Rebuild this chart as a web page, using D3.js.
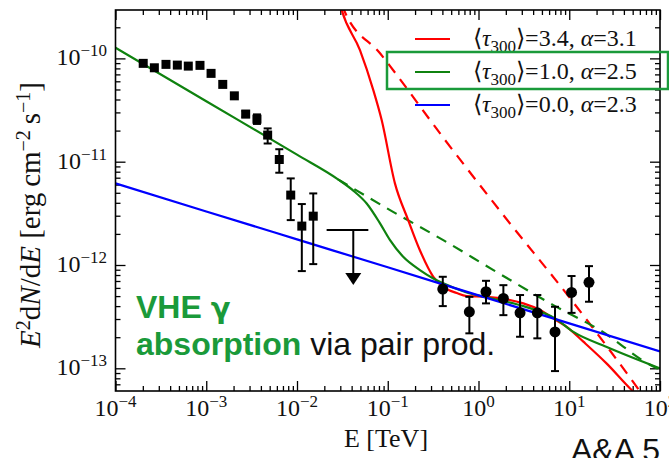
<!DOCTYPE html>
<html><head><meta charset="utf-8">
<script src="https://cdn.jsdelivr.net/npm/d3@7"></script>
<style>body{margin:0;background:#fff}svg{display:block}</style>
</head><body>
<svg id="c" width="669" height="458"></svg>
<script>
// ---------- data ----------
const fermiE  = [2.02e-4, 2.68e-4, 3.60e-4, 4.80e-4, 6.34e-4, 8.53e-4, 1.13e-3, 1.52e-3, 2.04e-3, 2.72e-3, 3.62e-3, 4.75e-3, 6.38e-3, 8.53e-3, 1.13e-2, 1.51e-2];
const fermiF  = [8.95e-11, 8.11e-11, 8.75e-11, 8.61e-11, 8.42e-11, 8.56e-11, 7.16e-11, 5.60e-11, 4.34e-11, 2.89e-11, 2.58e-11, 1.81e-11, 1.05e-11, 4.75e-12, 2.38e-12, 2.97e-12];
const fermiLo = [null, null, null, null, null, null, null, null, null, 2.70e-11, 2.32e-11, 1.50e-11, 7.82e-12, 2.72e-12, 8.73e-13, 1.02e-12];
const fermiHi = [null, null, null, null, null, null, null, null, null, 3.10e-11, 2.87e-11, 2.10e-11, 1.32e-11, 6.89e-12, 3.89e-12, 4.93e-12];

const hessE  = [0.404, 0.793, 1.21, 1.88, 2.87, 4.45, 6.97, 10.6, 16.5];
const hessF  = [5.85e-13, 3.52e-13, 5.51e-13, 4.75e-13, 3.44e-13, 3.44e-13, 2.25e-13, 5.43e-13, 6.79e-13];
const hessLo = [4.00e-13, 2.18e-13, 4.25e-13, 3.27e-13, 2.02e-13, 1.95e-13, 9.4e-14, 3.44e-13, 4.41e-13];
const hessHi = [7.69e-13, 4.92e-13, 7.03e-13, 6.38e-13, 5.12e-13, 5.12e-13, 3.94e-13, 7.82e-13, 9.75e-13];

const ulE = 4.17e-2, ulF = 2.18e-12, ulElo = 2.12e-2, ulEhi = 6.11e-2, ulTo = 6.4e-13;

// model curves [E (TeV), E^2 dN/dE]
const blueSolid = [[1e-4,6.17e-12],[1e-3,3.30e-12],[1e-2,1.77e-12],[1e-1,9.5e-13],[1,5.08e-13],[10,2.72e-13],[100,1.46e-13]];
const greenSolid = [[1e-4,1.27e-10],[1e-3,3.85e-11],[1e-2,1.17e-11],[2.83e-2,6.75e-12],[4.17e-2,5.25e-12],[5.86e-2,3.94e-12],[8.22e-2,2.53e-12],[0.106,1.74e-12],[0.148,1.20e-12],[0.226,8.93e-13],[0.318,7.41e-13],[0.409,6.64e-13],[0.741,5.41e-13],[1.23,4.86e-13],[3.12,4.00e-13],[6.97,3.04e-13],[11.1,2.25e-13],[25.9,1.61e-13],[100,1.0e-13]];
const greenDashed = [[2.83e-2,6.75e-12],[0.106,3.40e-12],[0.409,1.74e-12],[1.46,8.93e-13],[6.67,4.09e-13],[21.8,2.34e-13],[84.4,1.04e-13],[100,9.7e-14]];
const redSolid = [[3.0e-2,3.3e-10],[3.11e-2,2.94e-10],[4.94e-2,1.20e-10],[6.93e-2,4.93e-11],[8.57e-2,2.53e-11],[0.120,6.17e-12],[0.168,2.72e-12],[0.226,1.39e-12],[0.318,7.69e-13],[0.409,6.15e-13],[0.575,5.35e-13],[0.741,5.00e-13],[1.23,4.92e-13],[2.05,4.65e-13],[3.12,4.25e-13],[4.76,3.66e-13],[6.97,2.97e-13],[9.37,2.52e-13],[14.3,1.81e-13],[25.9,1.11e-13],[46.8,6.38e-14],[60.3,5.14e-14]];
const redDashed = [[3.2e-2,3.3e-10],[3.30e-2,2.94e-10],[8.22e-2,1.12e-10],[0.428,1.62e-11],[1.88,3.04e-12],[10.6,4.57e-13],[50.8,7.35e-14],[63.4,5.62e-14]];

const legendTau   = ["3.4", "1.0", "0.0"];
const legendAlpha = ["3.1", "2.5", "2.3"];
const xTickExp = [-4, -3, -2, -1, 0, 1, 2];
const yTickExp = [-10, -11, -12, -13];

// ---------- drawing ----------
const svg = d3.select("#c");
const L = 115.5, R = 660, T = 10, B = 391;
const x = d3.scaleLog().domain([1e-4, 1e2]).range([L, R]);
const y = d3.scaleLog().domain([6.03e-14, 2.94e-10]).range([B, T]);

const SERIF = "'Liberation Serif','Times New Roman',serif";
const SANS = "'Liberation Sans',Arial,sans-serif";
const RED = "#ff0000", GREEN = "#0f820f", BLUE = "#0000ff", HL = "#1a9a3a";

svg.append("defs").append("clipPath").attr("id", "pc")
  .append("rect").attr("x", L).attr("y", T).attr("width", R - L).attr("height", B - T);

function minors(scale) {
  const [a, b] = scale.domain();
  const out = [];
  for (let e = Math.floor(Math.log10(a)); e <= Math.ceil(Math.log10(b)); e++)
    for (let m = 2; m <= 9; m++) { const v = m * Math.pow(10, e); if (v >= a && v <= b) out.push(v); }
  return out;
}
const xMaj = xTickExp.map(e => Math.pow(10, e));
const yMaj = yTickExp.map(e => Math.pow(10, e));

function axisGroup(gen, tx, ty) {
  const g = svg.append("g").attr("transform", `translate(${tx},${ty})`).call(gen);
  g.select(".domain").remove();
  g.selectAll("text").remove();
  g.selectAll("line").attr("stroke", "#000").attr("stroke-width", 1.3);
  return g;
}
[[xMaj, 10], [minors(x), 5]].forEach(([vals, len]) => {
  axisGroup(d3.axisBottom(x).tickValues(vals).tickSizeInner(-len).tickSizeOuter(0), 0, B);
  axisGroup(d3.axisTop(x).tickValues(vals).tickSizeInner(-len).tickSizeOuter(0), 0, T);
});
[[yMaj, 10], [minors(y), 5]].forEach(([vals, len]) => {
  axisGroup(d3.axisLeft(y).tickValues(vals).tickSizeInner(-len).tickSizeOuter(0), L, 0);
  axisGroup(d3.axisRight(y).tickValues(vals).tickSizeInner(-len).tickSizeOuter(0), R, 0);
});

function powLabel(sel, e) {
  sel.append("tspan").text("10");
  sel.append("tspan").attr("dy", -9).attr("font-size", 17).text((e < 0 ? "\u2212" : "") + Math.abs(e));
}
xTickExp.forEach(e => {
  const t = svg.append("text").attr("x", x(Math.pow(10, e))).attr("y", 416)
    .attr("text-anchor", "middle").attr("font-family", SERIF).attr("font-size", 24).attr("fill", "#111");
  powLabel(t, e);
});
yTickExp.forEach(e => {
  const t = svg.append("text").attr("x", 107).attr("y", y(Math.pow(10, e)) + 7)
    .attr("text-anchor", "end").attr("font-family", SERIF).attr("font-size", 24).attr("fill", "#111");
  powLabel(t, e);
});

// axis titles
svg.append("text").attr("x", 386).attr("y", 447).attr("text-anchor", "middle")
  .attr("font-family", SERIF).attr("font-size", 26).attr("fill", "#111").text("E [TeV]");
const yl = svg.append("text").attr("transform", "translate(40,215) rotate(-90)")
  .attr("text-anchor", "middle").attr("font-family", SERIF).attr("font-size", 29).attr("fill", "#111");
yl.append("tspan").attr("font-style", "italic").text("E");
yl.append("tspan").attr("dy", -10).attr("font-size", 20).text("2");
yl.append("tspan").attr("dy", 10).text("d");
yl.append("tspan").attr("font-style", "italic").text("N");
yl.append("tspan").text("/d");
yl.append("tspan").attr("font-style", "italic").text("E");
yl.append("tspan").text(" [erg\u2009cm");
yl.append("tspan").attr("dy", -10).attr("font-size", 20).text("\u22122");
yl.append("tspan").attr("dy", 10).text("\u2009s");
yl.append("tspan").attr("dy", -10).attr("font-size", 20).text("\u22121");
yl.append("tspan").attr("dy", 10).text("]");

// curves
const line = d3.line().x(d => x(d[0])).y(d => y(d[1])).curve(d3.curveMonotoneX);
const pg = svg.append("g").attr("clip-path", "url(#pc)");
const curves = [
  [redDashed, RED, "11,8"], [greenDashed, GREEN, "11,8"],
  [redSolid, RED, null], [greenSolid, GREEN, null], [blueSolid, BLUE, null]
];
curves.forEach(([d, c, dash]) => {
  pg.append("path").datum(d).attr("d", line).attr("fill", "none")
    .attr("stroke", c).attr("stroke-width", 2.2).attr("stroke-dasharray", dash);
});

// error bars
function errBar(g, xv, lo, hi) {
  if (lo == null) return;
  g.append("line").attr("x1", x(xv)).attr("x2", x(xv)).attr("y1", y(lo)).attr("y2", y(hi));
  [lo, hi].forEach(v => g.append("line").attr("x1", x(xv) - 4).attr("x2", x(xv) + 4).attr("y1", y(v)).attr("y2", y(v)));
}
const eg = svg.append("g").attr("stroke", "#000").attr("stroke-width", 2);
fermiE.forEach((e, i) => errBar(eg, e, fermiLo[i], fermiHi[i]));
hessE.forEach((e, i) => errBar(eg, e, hessLo[i], hessHi[i]));

svg.append("g").selectAll("rect").data(fermiE).join("rect")
  .attr("x", d => x(d) - 4.5).attr("y", (d, i) => y(fermiF[i]) - 4.5)
  .attr("width", 9).attr("height", 9).attr("fill", "#000");
svg.append("g").selectAll("circle").data(hessE).join("circle")
  .attr("cx", d => x(d)).attr("cy", (d, i) => y(hessF[i])).attr("r", 5.5).attr("fill", "#000");

// upper limit
const ug = svg.append("g").attr("stroke", "#000").attr("stroke-width", 2);
ug.append("line").attr("x1", x(ulElo)).attr("x2", x(ulEhi)).attr("y1", y(ulF)).attr("y2", y(ulF));
ug.append("line").attr("x1", x(ulE)).attr("x2", x(ulE)).attr("y1", y(ulF)).attr("y2", y(ulTo) - 8);
svg.append("path").attr("fill", "#000")
  .attr("d", `M${x(ulE) - 8},${y(ulTo) - 12}L${x(ulE) + 8},${y(ulTo) - 12}L${x(ulE)},${y(ulTo)}Z`);

// frame
svg.append("rect").attr("x", L).attr("y", T).attr("width", R - L).attr("height", B - T)
  .attr("fill", "none").attr("stroke", "#000").attr("stroke-width", 1.6);

// legend
const colors = [RED, GREEN, BLUE];
const rowsY = [39, 72, 105];
legendTau.forEach((tau, i) => {
  svg.append("line").attr("x1", 415).attr("x2", 450).attr("y1", rowsY[i]).attr("y2", rowsY[i])
    .attr("stroke", colors[i]).attr("stroke-width", 2.2);
  const t = svg.append("text").attr("x", 473).attr("y", rowsY[i] + 7)
    .attr("font-family", SERIF).attr("font-size", 24).attr("fill", "#111");
  t.append("tspan").text("\u27E8");
  t.append("tspan").attr("font-style", "italic").text("\u03C4");
  t.append("tspan").attr("dy", 6).attr("font-size", 17).text("300");
  t.append("tspan").attr("dy", -6).text("\u27E9=" + tau + ", ");
  t.append("tspan").attr("font-style", "italic").text("\u03B1");
  t.append("tspan").text("=" + legendAlpha[i]);
});
svg.append("rect").attr("x", 387).attr("y", 52).attr("width", 281).attr("height", 37)
  .attr("fill", "none").attr("stroke", HL).attr("stroke-width", 2.5);

// annotation
const v1 = svg.append("text").attr("x", 136).attr("y", 318).attr("font-family", SANS).attr("font-size", 32)
  .attr("font-weight", "bold").attr("fill", HL);
v1.append("tspan").text("VHE ");
v1.append("tspan").attr("font-family", "'DejaVu Sans',sans-serif").attr("font-size", 29).text("\u03B3");
const an = svg.append("text").attr("x", 136).attr("y", 355).attr("font-family", SANS).attr("font-size", 32);
an.append("tspan").attr("font-weight", "bold").attr("fill", HL).text("absorption");
an.append("tspan").attr("fill", "#111").text(" via pair prod.");

svg.append("text").attr("x", 571).attr("y", 461).attr("font-family", SANS).attr("font-size", 32)
  .attr("fill", "#111").text("A&A 5");
</script>
</body></html>
